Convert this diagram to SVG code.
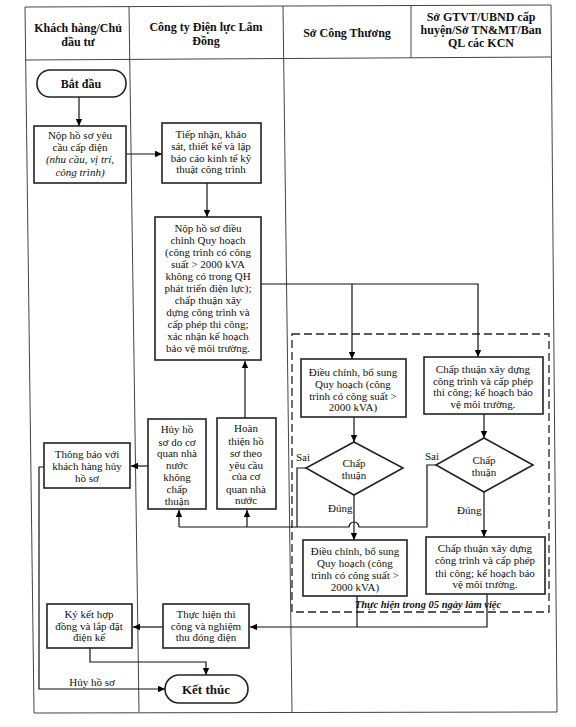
<svg xmlns="http://www.w3.org/2000/svg" width="576" height="727" viewBox="0 0 576 727">
<defs>
<marker id="arr" markerWidth="8" markerHeight="8" refX="7" refY="4" orient="auto" markerUnits="userSpaceOnUse">
<path d="M0,0.8 L7,4 L0,7.2 Z" fill="#000"/>
</marker>
<style>
.tbl{fill:none;stroke:#444;stroke-width:1}
.b{fill:#fff;stroke:#222;stroke-width:1.6}
.c{fill:none;stroke:#111;stroke-width:1.2}
.ca{fill:none;stroke:#111;stroke-width:1.2;marker-end:url(#arr)}
.t{font-family:"Liberation Serif","DejaVu Serif",serif;font-size:11px;text-anchor:middle;fill:#111}
.h{font-family:"Liberation Serif","DejaVu Serif",serif;font-size:12px;font-weight:bold;text-anchor:middle;fill:#111}
.l{font-family:"Liberation Serif","DejaVu Serif",serif;font-size:11px;fill:#111}
.i{font-style:italic}
</style>
</defs>
<rect width="576" height="727" fill="#fff"/>

<g id="table">
<polygon class="tbl" points="25,7 551,5 557,712 34,713"/>
<line class="tbl" x1="129" y1="7" x2="139" y2="712"/>
<line class="tbl" x1="283" y1="6" x2="292" y2="712"/>
<line class="tbl" x1="411" y1="6" x2="411" y2="58"/>
<line class="tbl" x1="25" y1="60" x2="551" y2="57"/>
<text class="h" x="78" y="32">Khách hàng/Chủ<tspan x="78" y="46">đầu tư</tspan></text>
<text class="h" x="206" y="31">Công ty Điện lực Lâm<tspan x="206" y="45">Đồng</tspan></text>
<text class="h" x="347" y="37">Sở Công Thương</text>
<text class="h" x="481" y="21">Sở GTVT/UBND cấp<tspan x="481" y="34">huyện/Sở TN&amp;MT/Ban</tspan><tspan x="481" y="47">QL các KCN</tspan></text>
</g>

<g id="dashed-region">
<rect x="292" y="334" width="257" height="278" fill="none" stroke="#222" stroke-width="1.3" stroke-dasharray="8,4"/>
<text class="h" x="428" y="608" style="font-size:10.5px;font-style:italic">Thực hiện trong 05 ngày làm việc</text>
</g>

<g id="connectors">
<line class="ca" x1="79" y1="97" x2="79" y2="126"/>
<line class="ca" x1="126" y1="154" x2="162" y2="154"/>
<line class="ca" x1="207" y1="183" x2="207" y2="217"/>
<polyline class="ca" points="261,284 478,284 478,357"/>
<line class="ca" x1="352" y1="284" x2="352" y2="359"/>
<line class="ca" x1="354" y1="417" x2="354" y2="442"/>
<line class="ca" x1="484" y1="414" x2="484" y2="438"/>
<line class="ca" x1="354" y1="495" x2="354" y2="540"/>
<line class="ca" x1="484" y1="492" x2="484" y2="537"/>
<polyline class="c" points="306,468 297,468 297,527"/>
<path class="c" d="M436,465 H427 V527 H359 A5,5 0 0 0 349,527 H179"/>
<line class="ca" x1="179" y1="527" x2="179" y2="510"/>
<line class="ca" x1="247" y1="527" x2="247" y2="510"/>
<line class="ca" x1="245" y1="418" x2="245" y2="361"/>
<line class="ca" x1="148" y1="466" x2="131" y2="466"/>
<polyline class="ca" points="44,467 39,467 39,689 165,689"/>
<line class="c" x1="357" y1="596" x2="357" y2="627"/>
<polyline class="ca" points="487,594 487,627 250,627"/>
<line class="ca" x1="163" y1="627" x2="133" y2="627"/>
<polyline class="ca" points="90,648 90,662 206,662 206,675"/>
<text class="l" x="296" y="461">Sai</text>
<text class="l" x="425" y="460">Sai</text>
<text class="l" x="328" y="512">Đúng</text>
<text class="l" x="457" y="514">Đúng</text>
<text class="t" x="92" y="686">Hủy hồ sơ</text>
</g>

<g id="start">
<rect class="b" x="37" y="70" width="89" height="27" rx="13"/>
<text class="h" x="81" y="88">Bắt đầu</text>
</g>

<g id="nop-ho-so">
<rect class="b" x="34" y="126" width="92" height="57"/>
<text class="t" x="80" y="139">Nộp hồ sơ yêu<tspan x="80" y="151">cầu cấp điện</tspan><tspan class="i" x="80" y="163">(nhu cầu, vị trí,</tspan><tspan class="i" x="80" y="176">công trình)</tspan></text>
</g>

<g id="tiep-nhan">
<rect class="b" x="162" y="123" width="99" height="60"/>
<text class="t" x="211" y="138">Tiếp nhận, khảo<tspan x="211" y="150">sát, thiết kế và lập</tspan><tspan x="211" y="162">báo cáo kinh tế kỹ</tspan><tspan x="211" y="173">thuật công trình</tspan></text>
</g>

<g id="nop-dieu-chinh">
<rect class="b" x="155" y="217" width="106" height="143"/>
<text class="t" x="208" y="232">Nộp hồ sơ điều<tspan x="208" y="244">chỉnh Quy hoạch</tspan><tspan x="208" y="256">(công trình có công</tspan><tspan x="208" y="268">suất &gt; 2000 kVA</tspan><tspan x="208" y="280">không có trong QH</tspan><tspan x="208" y="292">phát triển điện lực);</tspan><tspan x="208" y="304">chấp thuận xây</tspan><tspan x="208" y="316">dựng công trình và</tspan><tspan x="208" y="328">cấp phép thi công;</tspan><tspan x="208" y="340">xác nhận kế hoạch</tspan><tspan x="208" y="352">bảo vệ môi trường.</tspan></text>
</g>

<g id="dieu-chinh-1">
<rect class="b" x="301" y="359" width="105" height="58"/>
<text class="t" x="353" y="376">Điều chỉnh, bổ sung<tspan x="353" y="388">Quy hoạch (công</tspan><tspan x="353" y="400">trình có công suất &gt;</tspan><tspan x="353" y="411">2000 kVA)</tspan></text>
</g>

<g id="chap-thuan-1">
<rect class="b" x="424" y="357" width="119" height="57"/>
<text class="t" x="483" y="373">Chấp thuận xây dựng<tspan x="483" y="385">công trình và cấp phép</tspan><tspan x="483" y="396">thi công; kế hoạch báo</tspan><tspan x="483" y="408">vệ môi trường.</tspan></text>
</g>

<g id="decision-1">
<polygon class="b" points="354,442 403,468 354,495 306,468"/>
<text class="t" x="354" y="467">Chấp<tspan x="354" y="479">thuận</tspan></text>
</g>

<g id="decision-2">
<polygon class="b" points="484,438 533,465 484,492 436,465"/>
<text class="t" x="484" y="464">Chấp<tspan x="484" y="476">thuận</tspan></text>
</g>

<g id="dieu-chinh-2">
<rect class="b" x="303" y="540" width="104" height="56"/>
<text class="t" x="355" y="555">Điều chỉnh, bổ sung<tspan x="355" y="567">Quy hoạch (công</tspan><tspan x="355" y="579">trình có công suất &gt;</tspan><tspan x="355" y="591">2000 kVA)</tspan></text>
</g>

<g id="chap-thuan-2">
<rect class="b" x="426" y="537" width="119" height="57"/>
<text class="t" x="485" y="552">Chấp thuận xây dựng<tspan x="485" y="564">công trình và cấp phép</tspan><tspan x="485" y="577">thi công; kế hoạch báo</tspan><tspan x="485" y="588">vệ môi trường.</tspan></text>
</g>

<g id="huy-ho-so">
<rect class="b" x="148" y="419" width="58" height="90"/>
<text class="t" x="177" y="433">Hủy hồ<tspan x="177" y="446">sơ do cơ</tspan><tspan x="177" y="457">quan nhà</tspan><tspan x="177" y="469">nước</tspan><tspan x="177" y="481">không</tspan><tspan x="177" y="493">chấp</tspan><tspan x="177" y="505">thuận</tspan></text>
</g>

<g id="hoan-thien">
<rect class="b" x="217" y="418" width="59" height="91"/>
<text class="t" x="246" y="432">Hoàn<tspan x="246" y="445">thiện hồ</tspan><tspan x="246" y="457">sơ theo</tspan><tspan x="246" y="469">yêu cầu</tspan><tspan x="246" y="480">của cơ</tspan><tspan x="246" y="493">quan nhà</tspan><tspan x="246" y="504">nước</tspan></text>
</g>

<g id="thong-bao">
<rect class="b" x="44" y="443" width="86" height="45"/>
<text class="t" x="87" y="458">Thông báo với<tspan x="87" y="470">khách hàng hủy</tspan><tspan x="87" y="482">hồ sơ</tspan></text>
</g>

<g id="ky-ket">
<rect class="b" x="47" y="604" width="85" height="44"/>
<text class="t" x="89" y="618">Ký kết hợp<tspan x="89" y="630">đồng và lắp đặt</tspan><tspan x="89" y="641">điện kế</tspan></text>
</g>

<g id="thuc-hien">
<rect class="b" x="163" y="604" width="86" height="44"/>
<text class="t" x="206" y="618">Thực hiện thi<tspan x="206" y="630">công và nghiệm</tspan><tspan x="206" y="641">thu đóng điện</tspan></text>
</g>

<g id="end">
<rect class="b" x="165" y="675" width="83" height="28" rx="14"/>
<text class="h" x="206" y="694" style="font-size:13px">Kết thúc</text>
</g>
</svg>
